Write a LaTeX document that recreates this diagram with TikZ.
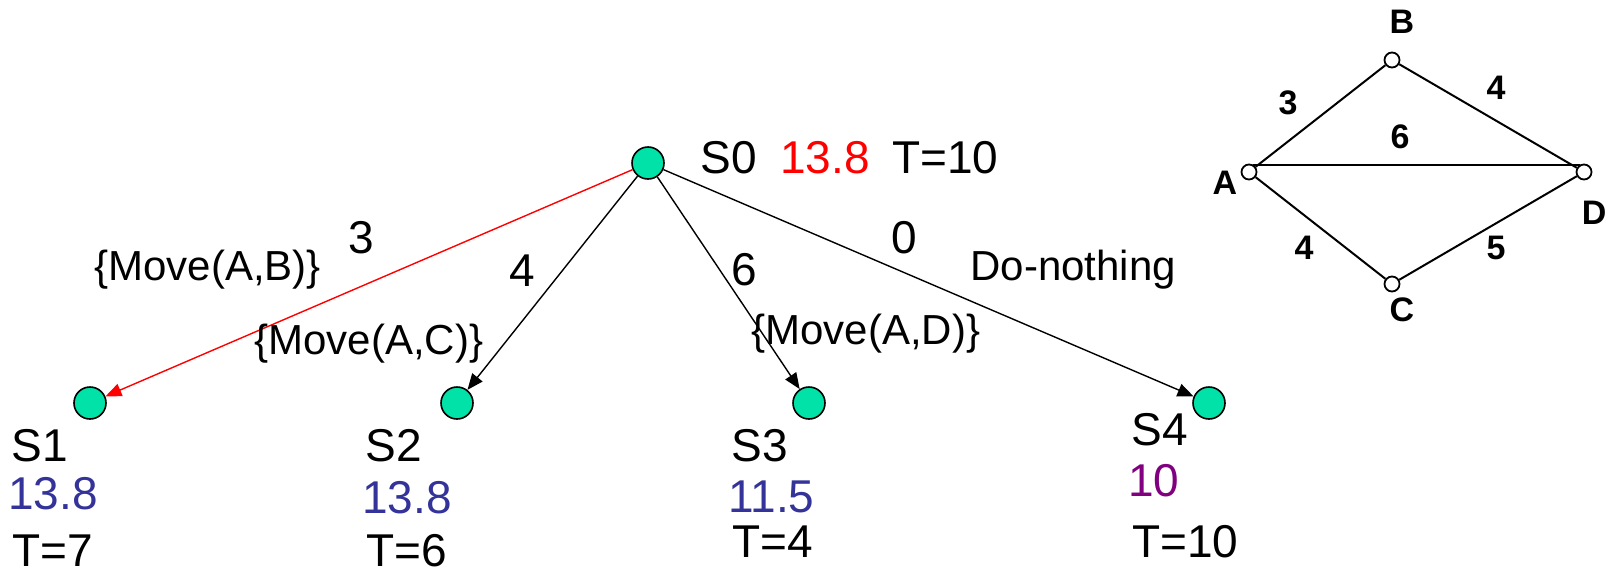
\documentclass[tikz,border=0pt]{standalone}
\usepackage{fontspec}
\setmainfont{Liberation Sans}
\usepackage{xcolor}
\usetikzlibrary{arrows.meta, positioning}
\definecolor{verdeestado}{RGB}{0,226,168}
\definecolor{azulvalor}{RGB}{51,51,153}
\definecolor{roxovalor}{RGB}{128,0,128}

\begin{document}
\begin{tikzpicture}[
        x=0.5pt, y=-0.5pt,
        estado/.style={circle, draw, line width=0.8pt, fill=verdeestado, minimum size=16pt, inner sep=0pt},
        vertice/.style={circle, draw, line width=0.9pt, fill=white, minimum size=7.5pt, inner sep=0pt},
        rotulo/.style={anchor=base west, inner sep=0pt, font=\fontsize{23}{23}\selectfont},
        acao/.style={anchor=base west, inner sep=0pt, font=\fontsize{21}{21}\selectfont},
        peso/.style={inner sep=0pt, font=\fontsize{17}{17}\selectfont\bfseries},
        seta/.style={-{Triangle[length=8pt, width=6.5pt]}, line width=0.7pt},
        aresta/.style={line width=1pt}
    ]
    \path[use as bounding box] (0,0) rectangle (1620,573);

    % arvore de estados
    \node[estado] (s0) at (648,163) {};
    \node[estado] (s1) at (90,403) {};
    \node[estado] (s2) at (457,403) {};
    \node[estado] (s3) at (809,403) {};
    \node[estado] (s4) at (1209,403) {};

    \node[rotulo] (s0nome) at (700,173) {S0};
    \node[rotulo, red] (s0valor) at (780,173) {13.8};
    \node[rotulo] (s0tempo) at (892,173) {T=10};

    \node[rotulo] (s1nome) at (11,461) {S1};
    \node[rotulo, azulvalor] (s1valor) at (8,509) {13.8};
    \node[rotulo] (s1tempo) at (12,566) {T=7};

    \node[rotulo] (s2nome) at (365,461) {S2};
    \node[rotulo, azulvalor] (s2valor) at (362,513) {13.8};
    \node[rotulo] (s2tempo) at (366,566) {T=6};

    \node[rotulo] (s3nome) at (731,461) {S3};
    \node[rotulo, azulvalor] (s3valor) at (728,512) {11.5};
    \node[rotulo] (s3tempo) at (732,557) {T=4};

    \node[rotulo] (s4nome) at (1131,445) {S4};
    \node[rotulo, roxovalor] (s4valor) at (1128,496) {10};
    \node[rotulo] (s4tempo) at (1132,557) {T=10};

    \draw[seta, red] (s0) -- (s1);
    \draw[seta] (s0) -- (s2);
    \draw[seta] (s0) -- (s3);
    \draw[seta] (s0) -- (s4);

    \node[rotulo] (c1) at (348,253) {3};
    \node[acao] (a1) at (94,280) {\{Move(A,B)\}};
    \node[rotulo] (c2) at (509,286) {4};
    \node[acao] (a2) at (254,354) {\{Move(A,C)\}};
    \node[rotulo] (c3) at (731,285) {6};
    \node[acao] (a3) at (751,344) {\{Move(A,D)\}};
    \node[rotulo] (c4) at (891,253) {0};
    \node[acao] (a4) at (970,280) {Do-nothing};

    % grafo
    \node[vertice] (va) at (1249,172) {};
    \node[vertice] (vb) at (1392,60) {};
    \node[vertice] (vc) at (1392,284) {};
    \node[vertice] (vd) at (1584,172) {};

    \draw[aresta] (va) -- (vb) -- (vd) -- (vc) -- (va);
    \draw[aresta] (va.60) -- (vd.120);

    \node[peso] (ra) at (1225,183) {A};
    \node[peso] (rb) at (1402,22) {B};
    \node[peso] (rc) at (1402,310) {C};
    \node[peso] (rd) at (1594,213) {D};

    \node[peso] (pab) at (1288,103) {3};
    \node[peso] (pbd) at (1496,88) {4};
    \node[peso] (pad) at (1400,137) {6};
    \node[peso] (pac) at (1304,248) {4};
    \node[peso] (pcd) at (1496,248) {5};
\end{tikzpicture}
\end{document}
